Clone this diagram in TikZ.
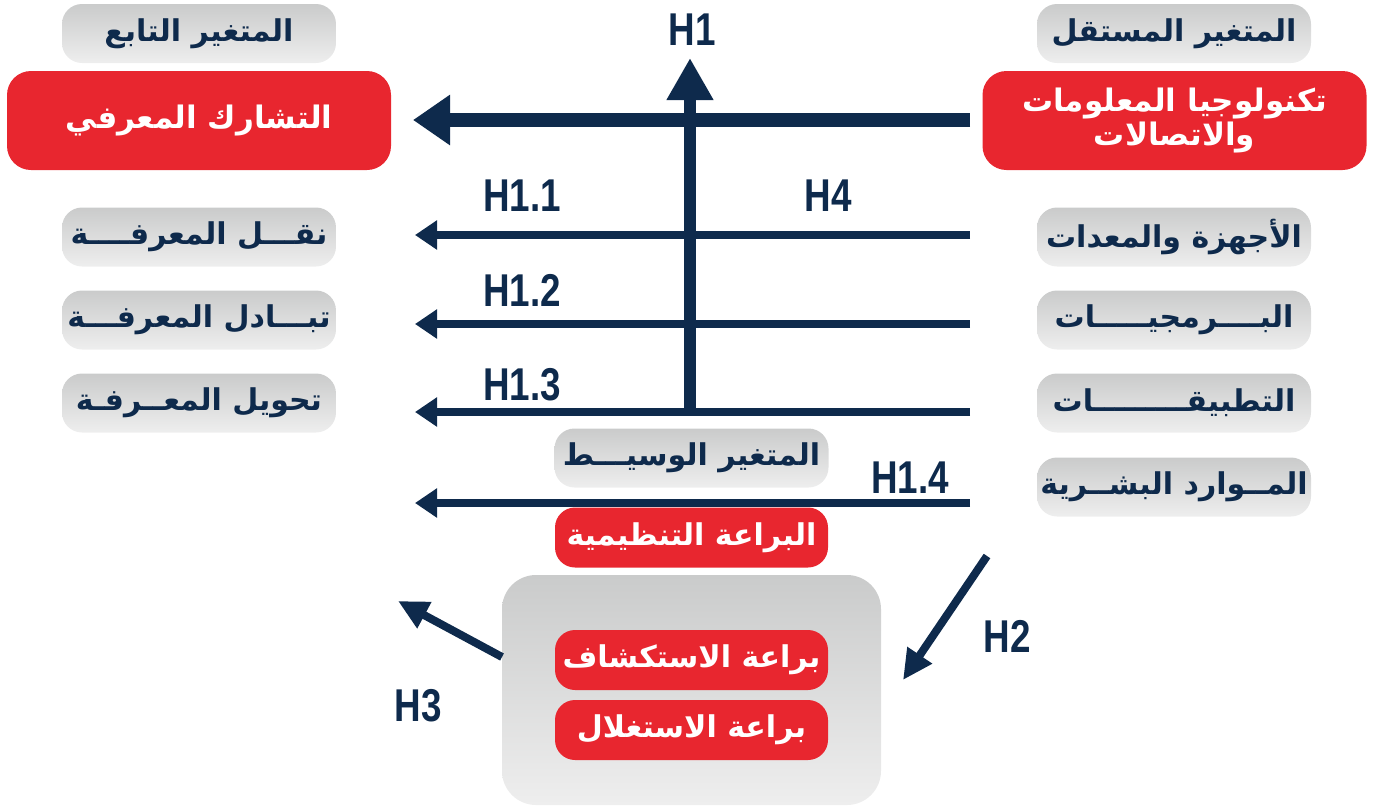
\documentclass[tikz,border=0pt]{standalone}
\usepackage{fontspec}
\usetikzlibrary{arrows.meta}
\TeXXeTstate=1
\newfontfamily\arfont[Script=Arabic]{DejaVu Sans}
\newfontfamily\hfont[FakeStretch=0.8]{Liberation Sans}
\definecolor{navy}{HTML}{0E2A4C}
\definecolor{redbox}{HTML}{E8262F}
\definecolor{gtop}{HTML}{CACBCB}
\definecolor{gbot}{HTML}{EEEEEE}
\tikzset{
  graybox/.style={rounded corners=10pt, top color=gtop, bottom color=gbot, draw=none,
    minimum width=137pt, minimum height=29.5pt, inner sep=0pt,
    font=\arfont\bfseries\fontsize{15}{18}\selectfont, text=navy},
  redsmall/.style={rounded corners=10pt, fill=redbox, draw=none,
    minimum width=136.5pt, minimum height=30pt, inner sep=0pt,
    font=\arfont\bfseries\fontsize{15}{18}\selectfont, text=white},
  redbig/.style={rounded corners=12pt, fill=redbox, draw=none,
    minimum width=192pt, minimum height=49.5pt, inner sep=0pt, align=center,
    font=\arfont\bfseries\fontsize{15.5}{17}\selectfont, text=white},
  hlab/.style={font=\hfont\bfseries\fontsize{23}{26}\selectfont, text=navy, inner sep=0pt},
  thickarrow/.style={draw=navy, line width=7pt, -{Triangle[length=18.5pt,width=24pt]}},
  vertarrow/.style={draw=navy, line width=6pt, -{Triangle[length=21pt,width=22pt]}},
  thinarrow/.style={draw=navy, line width=4pt, -{Triangle[length=11pt,width=14pt]}},
  diagarrow/.style={draw=navy, line width=4pt, -{Triangle[length=15pt,width=14pt]}},
}
\begin{document}
\begin{tikzpicture}[x=0.5pt,y=-0.5pt]
\useasboundingbox (0,0) rectangle (1373,805);
% headers
\node[graybox] (dephead) at (199,33.5) {\beginR المتغير التابع\endR};
\node[graybox] (indhead) at (1174,33.5) {\beginR المتغير المستقل\endR};
\node[redbig] (dep) at (199,120.5) {\beginR التشارك المعرفي\endR};
\node[redbig] (ind) at (1174.5,120.5) {\beginR تكنولوجيا المعلومات\endR\\\beginR والاتصالات\endR};
% left list
\node[graybox] (d1) at (199,237) {\beginR نقـــل المعرفــــة\endR};
\node[graybox] (d2) at (199,320) {\beginR تبـــادل المعرفـــة\endR};
\node[graybox] (d3) at (199,403) {\beginR تحويل المعــرفـة\endR};
% right list
\node[graybox] (i1) at (1174,237) {\beginR الأجهزة والمعدات\endR};
\node[graybox] (i2) at (1174,320) {\beginR البــــرمجيـــــات\endR};
\node[graybox] (i3) at (1174,403) {\beginR التطبيقـــــــــات\endR};
\node[graybox] (i4) at (1174,487) {\beginR المــوارد البشــرية\endR};
% mediator
\node[graybox] (medhead) at (691.5,458) {\beginR المتغير الوسيـــط\endR};
\node[redsmall] (med) at (691.5,537.5) {\beginR البراعة التنظيمية\endR};
\node[rounded corners=17pt, top color=gtop, bottom color=gbot, draw=none,
  minimum width=189.5pt, minimum height=115pt] (amb) at (691.5,690) {};
\node[redsmall] (exp) at (691.5,660) {\beginR براعة الاستكشاف\endR};
\node[redsmall] (expl) at (691.5,730) {\beginR براعة الاستغلال\endR};
% arrow coordinates
\coordinate (a0s) at (970,120); \coordinate (a0e) at (413,120);
\coordinate (vs) at (690,415); \coordinate (ve) at (690,58);
\coordinate (a1s) at (970,235); \coordinate (a1e) at (415,235);
\coordinate (a2s) at (970,324); \coordinate (a2e) at (415,324);
\coordinate (a3s) at (970,412); \coordinate (a3e) at (415,412);
\coordinate (a4s) at (970,503); \coordinate (a4e) at (415,503);
\coordinate (h2s) at (987,556); \coordinate (h2e) at (903,680);
\coordinate (h3s) at (502,657); \coordinate (h3e) at (398,601);
\draw[thickarrow] (a0s) -- (a0e);
\draw[thinarrow] (a1s) -- (a1e);
\draw[thinarrow] (a2s) -- (a2e);
\draw[thinarrow] (a3s) -- (a3e);
\draw[thinarrow] (a4s) -- (a4e);
\draw[vertarrow] (vs) -- (ve);
\draw[diagarrow] (h2s) -- (h2e);
\draw[diagarrow] (h3s) -- (h3e);
% labels
\node[hlab] (lh1) at (692,30) {H1};
\node[hlab] (lh11) at (522,196) {H1.1};
\node[hlab] (lh4) at (828,196) {H4};
\node[hlab] (lh12) at (522,290) {H1.2};
\node[hlab] (lh13) at (522,385) {H1.3};
\node[hlab] (lh14) at (910,478) {H1.4};
\node[hlab] (lh2) at (1007,636) {H2};
\node[hlab] (lh3) at (418,706) {H3};
\end{tikzpicture}
\end{document}
